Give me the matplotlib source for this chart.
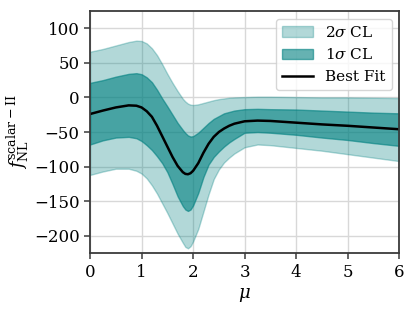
import numpy as np
import matplotlib
matplotlib.use("Agg")
import matplotlib.pyplot as plt

plt.rcParams['font.family'] = 'DejaVu Serif'
plt.rcParams['mathtext.fontset'] = 'dejavuserif'
plt.rcParams['font.size'] = 12

# values
mu = [0, 0.25, 0.5, 0.75, 0.9, 1.0, 1.1, 1.2, 1.3, 1.4, 1.5, 1.6, 1.7, 1.8, 1.85, 1.9, 1.95,
      2.0, 2.1, 2.2, 2.3, 2.4, 2.5, 2.6, 2.7, 2.8, 3.0, 3.25, 3.5, 4.0, 4.5, 5.0, 5.5, 6.0]
upper_2sig = [66, 70, 75, 80, 82, 81.5, 78, 71, 61, 48, 34, 21, 9, -2, -6, -9, -10.5,
              -11, -10, -8, -6, -4, -2.5, -1.5, -0.5, 0, 0.5, 1, 1, 0.5, 0, 0, -0.5, -1]
upper_1sig = [21, 25, 30, 34, 35, 33.5, 29, 22, 11, -1.5, -13, -25, -37, -47, -51.5, -55, -56.5,
              -56, -51, -44, -37, -31, -27, -23, -21, -19, -17, -16.5, -17, -17.5, -19, -20.5, -22, -23]
best_fit = [-24, -19, -14.5, -11.5, -12, -14.5, -20, -28, -41, -56, -71, -86, -99, -108, -110.5, -111, -109.5,
            -106, -95, -80, -67, -57, -50, -45, -41, -38, -34.5, -33.5, -34, -36.5, -39, -41, -43.5, -46]
lower_1sig = [-68, -62, -58, -57, -59, -63, -69, -76, -85, -95, -108, -125, -143, -157, -162, -164, -162,
              -156, -138, -115, -97, -86, -78, -71, -65, -60, -51, -50, -51, -54, -58, -61.5, -66, -70]
lower_2sig = [-112, -107, -103, -103, -106, -110, -117, -127, -139, -153, -167, -182, -197, -210, -216, -218, -215,
              -208, -190, -165, -140, -118, -104, -94, -87, -81, -72, -68, -69, -73, -77, -82, -87, -92]

fig = plt.figure(figsize=(4.15, 3.11), dpi=100)
ax = fig.add_axes([0.217, 0.186, 0.745, 0.779])

ax.fill_between(mu, lower_2sig, upper_2sig, color='teal', alpha=0.3, label=r'$2\sigma$ CL')
ax.fill_between(mu, lower_1sig, upper_1sig, color='teal', alpha=0.6, label=r'$1\sigma$ CL')
ax.plot(mu, best_fit, color='black', lw=1.8, label='Best Fit')

ax.set_xlim(0, 6)
ax.set_ylim(-225, 125)
ax.set_yticks([-200, -150, -100, -50, 0, 50, 100])
ax.grid(color='#d8d8d8', lw=1)
ax.set_axisbelow(True)
for s in ax.spines.values():
    s.set_color('#3a3a3a')
    s.set_linewidth(1.3)
ax.tick_params(color='#3a3a3a', width=1.1, length=4)

ax.set_xlabel(r'$\mu$', fontsize=13)
ax.set_ylabel(r'$f_{\rm NL}^{\rm scalar-II}$', fontsize=13, labelpad=2)
ax.legend(loc='upper right', fontsize=11)

fig.savefig('out.png')
